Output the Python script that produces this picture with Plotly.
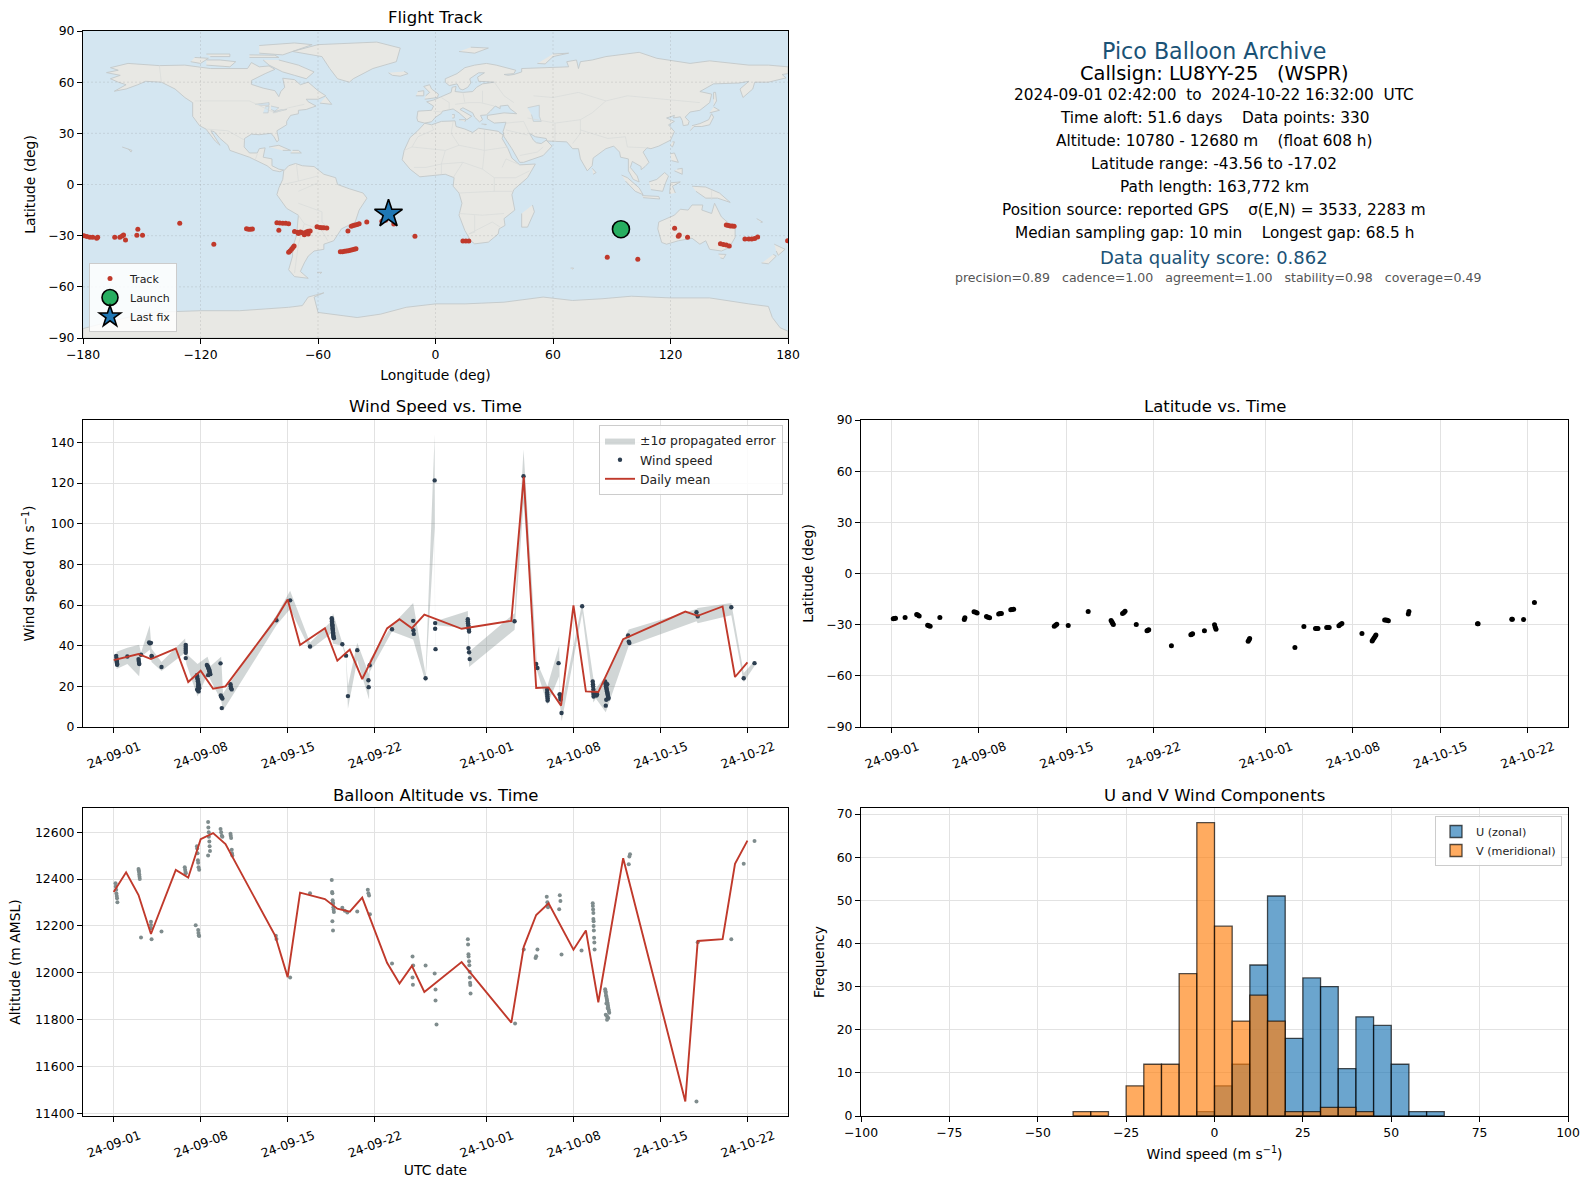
import datetime as dt
import plotly.graph_objects as go

W, H = 1589, 1189
FONT = "DejaVu Sans"
START = dt.datetime(2024, 9, 1)

# ---- time-axis ticks
TICK_DATES = ["2024-09-01", "2024-09-08", "2024-09-15", "2024-09-22",
              "2024-10-01", "2024-10-08", "2024-10-15", "2024-10-22"]
TICK_LABELS = ["24-09-01", "24-09-08", "24-09-15", "24-09-22",
               "24-10-01", "24-10-08", "24-10-15", "24-10-22"]

# ---- daily means
WIND_MEAN_DAYS = [0, 1, 2, 3, 5, 6, 7, 8, 9, 13, 14, 15, 17, 18, 19, 20, 22, 23, 24, 25, 28, 29,
                  32, 33, 34, 35, 36, 37, 38, 39, 41, 46, 47, 49, 50, 51]
WIND_MEAN = [32.9, 34.4, 35.9, 33.4, 38.6, 22.1, 27.7, 18.8, 20.0, 52.7, 62.7, 40.3, 48.6, 32.6, 38.1, 23.6,
             48.5, 53.0, 48.6, 55.3, 48.3, 49.3, 52.2, 123.1, 19.2, 19.5, 10.5, 59.8, 17.5, 17.2, 43.2,
             56.8, 54.7, 59.3, 24.6, 31.8]
ALT_MEAN_DAYS = [0, 1, 2, 3, 5, 6, 7, 8, 9, 13, 14, 15, 17, 18, 19, 20, 22, 23, 24, 25, 28,
                 32, 33, 34, 35, 37, 38, 39, 41, 46, 47, 49, 50, 51]
ALT_MEAN = [12345, 12429, 12332, 12166, 12439, 12406, 12570, 12596, 12549, 12158, 11982, 12342, 12315,
            12274, 12261, 12321, 12043, 11955, 12030, 11919, 12046, 11788, 12111, 12247, 12297, 12099,
            12181, 11875, 12489, 11452, 12136, 12144, 12465, 12564]

# ---- wind speed samples (day since 1 Sep, m/s)
WIND_DAY = [.2, .22, .24, .24, .26, .26, .28, .28, 1.1, 2.0, 2.02, 2.04, 2.06, 2.2, 2.85, 2.92, 3.0, 3.05, 3.07, 3.85,
            5.8, 5.8, 5.8, 5.8, 5.8, 5.8,
            6.7, 6.72, 6.74, 6.76, 6.78, 6.8, 6.82, 6.84, 6.8, 6.86, 6.88, 6.72, 6.78, 6.84,
            7.5, 7.55, 7.6, 7.62, 7.65, 7.68, 7.7, 7.72, 7.75, 7.78, 7.6, 7.7,
            8.6, 8.62, 8.65, 8.7, 8.75, 8.7, 9.4, 9.42, 9.45, 9.5,
            13.1, 14.2, 15.8,
            17.55, 17.56, 17.57, 17.58, 17.59, 17.6, 17.61, 17.62, 17.63, 17.64, 17.65, 17.66, 17.67, 17.68, 17.7, 17.72,
            18.4, 18.7, 18.85, 19.6, 20.5, 20.52, 20.6,
            22.4, 24.1, 24.12, 24.15, 25.1,
            25.83, 25.87, 25.87, 25.9,
            28.5, 28.5, 28.52, 28.54, 28.55, 28.58, 28.6, 28.55, 28.6, 28.65,
            32.26, 32.98, 34.0, 34.1,
            34.88, 34.88, 34.9, 34.9, 34.92, 34.92, 35.8, 35.88, 35.92, 35.96, 35.94, 36.04,
            37.7,
            38.55, 38.57, 38.58, 38.6, 38.6, 38.62, 38.62, 38.8, 38.85, 38.9,
            39.55, 39.58, 39.6, 39.62, 39.64, 39.66, 39.68, 39.7, 39.72, 39.74, 39.76, 39.78, 39.8, 39.82, 39.64, 39.72, 39.6,
            41.4, 41.45, 41.5, 46.9, 47.0, 49.7, 50.7, 51.57]
WIND_SPEED = [35, 34, 33, 32.5, 32, 31.5, 31, 30.6, 34.7, 33.4, 32.5, 31.5, 31, 35.5, 41.6, 41.2, 41.4, 35, 34.6, 29.5,
              40.4, 39.5, 38.5, 37.5, 36.5, 33.9,
              25.5, 24.8, 24, 23.2, 22.5, 21.8, 21, 20.5, 20, 19.5, 19, 18.5, 18, 17.5,
              30.5, 30, 29.5, 29, 28.5, 28, 27.5, 27, 26.5, 26, 25.5, 28,
              31.3, 15.5, 15, 14.5, 14, 9.3, 21, 20, 19, 18.5,
              52.5, 62.3, 39.6,
              53.5, 52.8, 52, 51.3, 50.5, 50, 49.3, 48.6, 48, 47.3, 46.6, 46, 45.3, 44.8, 44.2, 43.7,
              40.7, 35.1, 15.2, 37.8, 23, 19.6, 30.4,
              48.1, 52.2, 47.6, 45.8, 24,
              121.3, 51.1, 48.3, 38.3,
              53, 52, 51, 50, 49, 48, 47, 38.8, 36.8, 33.4,
              52, 123.3, 31, 29,
              18.3, 17, 16, 15, 14, 13, 31.4, 16, 16, 13.5, 14.5, 6.9,
              59.4,
              22.4, 21, 20, 18.5, 17, 16, 15, 16.7, 15.5, 16,
              22.4, 21.5, 20.8, 20, 19.4, 18.8, 18.2, 17.6, 17, 16.4, 15.8, 15.2, 14.6, 14, 13.4, 21, 10.5,
              45, 42, 41.3, 56.5, 54.4, 58.9, 24, 31.4]

# ---- +/- 1 sigma envelope
BAND_DAY = [.24, 1.1, 2.05, 2.2, 2.9, 3.05, 3.85, 5.75, 5.85, 6.75, 7.55, 7.8, 8.65, 8.8, 9.5, 13.1, 14.2, 15.8,
            17.5, 17.65, 18.4, 18.7, 18.85, 19.6, 20.55, 20.6, 22.4, 24.1, 25.1, 25.83, 25.87, 25.9, 28.5, 28.6,
            32.26, 32.98, 34.05, 34.9, 35.85, 35.9, 36.05, 37.7, 38.6, 38.8, 39.6, 41.45, 46.9, 47, 49.7, 50.7, 51.57]
BAND_HI = [37, 39, 40.5, 36.5, 50, 38.5, 32, 43.5, 36, 31, 34.5, 30, 34.5, 16.5, 23, 55, 67, 41.5,
           52, 56, 41.5, 36, 20, 41.5, 26, 33, 50, 61, 26, 144, 41, 52, 57, 37,
           56, 136.5, 32, 20, 40, 18, 11, 61, 24, 19, 25, 48, 58, 58.5, 61, 26.5, 32.5]
BAND_LO = [28.5, 31, 25, 34.5, 38, 32, 27.5, 36.5, 31, 15, 26, 23, 13, 8, 14.5, 50, 58, 38,
           46, 41, 40, 34, 9, 33, 13.5, 27, 47, 43, 22, 98, 36, 50, 48.6, 29.5,
           47.8, 110, 28, 11, 25, 12, 2.8, 56, 12, 14, 7.2, 40, 52, 51, 55, 22, 30]

# ---- altitude samples
ALT_DAY = [.15, .17, .2, .22, .25, .27, .3, 2.0, 2.02, 2.04, 2.06, 2.08, 2.1, 2.2, 3.0, 3.0, 3.0, 3.05, 3.85,
           5.72, 5.75, 5.78, 5.8, 6.6, 6.8, 6.82, 6.85, 6.88,
           6.7, 6.72, 6.75, 6.78, 6.8, 6.83, 6.88,
           7.6, 7.62, 7.65, 7.66, 7.7, 7.72, 7.75, 7.6,
           8.6, 8.65, 8.7, 8.75, 9.4, 9.42, 9.45, 9.5, 9.52, 9.55,
           13.05, 13.1, 14.2, 15.8,
           17.55, 17.58, 17.6, 17.62, 17.64, 17.66, 17.68, 17.7, 17.72, 17.6, 17.65,
           18.4, 18.6, 18.8, 19.6, 20.45, 20.5, 20.55, 20.62, 22.4, 24.05, 24.1, 24.05, 24.08, 25.1,
           25.83, 25.9, 25.9, 25.98,
           28.5, 28.52, 28.55, 28.56, 28.6, 28.62, 28.65, 28.66, 28.68, 28.7, 28.72,
           32.3, 33, 34.1, 33.95, 34.0,
           34.85, 34.9, 34.92, 34.95, 35.9, 35.95, 35.85, 36.04, 37.65,
           38.55, 38.56, 38.58, 38.6, 38.6, 38.62, 38.62, 38.64, 38.66, 38.68, 38.7,
           39.55, 39.58, 39.6, 39.62, 39.65, 39.68, 39.7, 39.72, 39.75, 39.78, 39.8, 39.82, 39.85, 39.88, 39.6, 39.7, 39.8, 39.65, 39.75, 39.7,
           41.45, 41.5, 41.55, 46.9, 47.0, 49.7, 50.7, 51.57]
ALT_VAL = [12382, 12368, 12354, 12339, 12328, 12318, 12301, 12443, 12437, 12430, 12420, 12410, 12400, 12151, 12218, 12204, 12190, 12143, 12177,
           12450, 12440, 12430, 12425, 12203, 12183, 12170, 12160, 12157,
           12540, 12530, 12510, 12480, 12470, 12450, 12440,
           12643, 12620, 12600, 12580, 12560, 12540, 12520, 12500,
           12613, 12600, 12585, 12580, 12593, 12585, 12575, 12525, 12510, 12500,
           12158, 12145, 11980, 12340,
           12396, 12345, 12340, 12310, 12300, 12295, 12280, 12270, 12260, 12220, 12181,
           12278, 12265, 12257, 12262, 12354, 12340, 12330, 12250, 12040, 12070, 12032, 11980, 11950, 12032,
           11997, 11929, 11882, 11780,
           12143, 12121, 12080, 12070, 12050, 12033, 12005, 11980, 11958, 11948, 11912,
           11784, 12100, 12100, 12064, 12071,
           12325, 12301, 12290, 12280, 12331, 12307, 12271, 12079, 12096,
           12297, 12285, 12270, 12255, 12230, 12220, 12200, 12181, 12150, 12130, 12100,
           11930, 11922, 11915, 11905, 11898, 11890, 11882, 11875, 11868, 11860, 11852, 11845, 11838, 11830, 11822, 11815, 11808, 11870, 11850, 11800,
           12463, 12496, 12506, 11452, 12131, 12143, 12465, 12562]

# ---- latitude samples
LAT_DAY = [.12, .2, .3, 1.07, 2.0, 2.09, 2.2, 2.88, 2.98, 3.08, 3.86, 5.82, 5.87, 6.6, 6.73, 6.85, 7.6, 7.72, 7.85,
           8.58, 8.69, 8.8, 9.55, 9.65, 9.78, 13.04, 13.14, 13.24, 14.16, 15.76, 17.6, 17.67, 17.72, 17.78, 18.52, 18.63, 18.72,
           19.62, 20.48, 20.56, 20.62, 22.44, 24.0, 24.08, 24.14, 25.09, 25.9, 25.96, 26.02,
           28.6, 28.67, 28.72, 32.35, 33.07, 34.0, 34.1, 34.2, 34.9, 35.0, 35.1, 35.88, 36.0, 36.12, 37.73,
           38.55, 38.62, 38.7, 38.78, 38.85, 39.55, 39.65, 39.75, 39.85, 41.45, 41.5, 47.0, 47.05, 49.75, 49.8, 50.7, 51.57]
LAT_VAL = [-26.5, -26.4, -26.3, -25.8, -24, -24.3, -24.9, -30.4, -30.7, -31, -25.8, -26.9, -26, -22.4, -22.7, -23.2, -25.2, -25.6, -26,
           -23.7, -23.5, -23.4, -21.2, -21.1, -21, -30.9, -30.3, -29.8, -30.5, -22.3, -27.6, -28.4, -29.2, -29.9, -23.4, -22.9, -22.2,
           -29.9, -33.6, -33.3, -33, -42.3, -35.9, -35.6, -35.3, -33.5, -30, -31.5, -32.7,
           -39.7, -38.9, -38.1, -43.4, -31.1, -32.3, -32.3, -32.3, -31.7, -31.7, -31.7, -30.6, -29.9, -29.3, -35.2,
           -39.6, -38.7, -37.8, -36.9, -36.1, -27.3, -27.2, -27.4, -27.7, -23.7, -22.3, -29.4, -29.4, -26.8, -26.8, -27, -17]

# ---- map track
TRACK_LON = [-179.5, -178, -176.5, -175, -173, -172.5, -163.8, -161.2, -160, -159.3, -158.3, -152, -152.5, -149.6, -130.6, -113.2,
             -96.5, -95.5, -94.5, -93.5, -81, -79.5, -78, -76.5, -75, -80, -72, -70.5, -69, -68, -67, -66, -65, -64, -70, -67, -65,
             -75, -74.3, -73.5, -72.8, -72.2, -60.5, -59, -58, -57, -55.5, -44.7, -43, -42, -41, -40, -39, -35.1,
             -48.6, -47.5, -46.5, -45.5, -44.5, -43.5, -42.5, -41.5, -40.6, -27.4, -25.5, -21.3, -10.5, 14, 15.5, 17,
             87.7, 103.3, 122.1, 124, 124.5, 128.7, 148.5, 149.5, 150.5, 151.5, 152.5, 145.5, 147, 148.5, 150,
             158, 160, 161.5, 163, 164.5, 179.8]
TRACK_LAT = [-30, -30.5, -31, -31, -31.5, -31, -30.9, -31, -30.2, -29.6, -32.5, -26.2, -29.7, -29.7, -22.7, -35,
             -26, -26.3, -26.3, -26.1, -22.5, -22.6, -22.7, -22.7, -23, -26.8, -27.5, -28, -27.9, -28.3, -28.6, -27.8, -27.4, -27.2, -28.8, -29.5, -29,
             -39.7, -39, -38, -37, -36, -24.8, -25.2, -25.4, -25.4, -25.5, -27.2, -24.5, -24, -23.8, -23.5, -23, -22,
             -39.5, -39.4, -39.2, -39, -38.8, -38.6, -38.3, -38, -37.7, -21.5, -21, -23.1, -30.3, -33.2, -33.2, -33.1,
             -42.6, -43.8, -25.6, -30.3, -29.6, -30.9, -23.8, -24, -24.3, -24.4, -24.5, -34.8, -35.2, -35.4, -36,
             -32, -32, -32, -31.7, -30.8, -33]
LAUNCH = (94.7, -26.2)
LAST_FIX = (-24.0, -17.2)

# ---- histogram counts (bin lower edge, width 5)
U_EDGES = [-5, 0, 5, 10, 15, 20, 25, 30, 35, 40, 45, 50, 55, 60]
U_COUNTS = [1, 7, 12, 35, 51, 18, 32, 30, 11, 23, 21, 12, 1, 1]
V_EDGES = [-40, -35, -25, -20, -15, -10, -5, 0, 5, 10, 15, 20, 25, 30, 35, 40]
V_COUNTS = [1, 1, 7, 12, 12, 33, 68, 44, 22, 28, 22, 1, 1, 2, 2, 1]

# ---- base map outlines (lon, lat)
LAND_POLYGONS = [
    [(-168, 65.6), (-162, 67), (-166, 68.5), (-157, 71), (-141, 69.7), (-128, 70), (-115, 68), (-108, 68), (-96, 68), (-94, 71.5), (-90, 69), (-85, 69.5), (-82, 67.5), (-87, 65), (-94, 61), (-94, 58.7), (-88, 56.5), (-82, 55), (-80, 51.5), (-79, 54.5), (-77, 57), (-78, 62.3), (-72, 61.5), (-69, 58.5), (-65, 60), (-60, 55), (-56, 52), (-60, 50), (-66, 50), (-65, 48.5), (-61, 46), (-66, 44), (-70, 43.5), (-70, 41.5), (-74, 40.5), (-76, 37), (-76, 35), (-81, 31.5), (-80, 26), (-81, 25), (-82.5, 28), (-84, 30), (-90, 29.2), (-94, 29.5), (-97.5, 27), (-97.7, 22), (-95, 18.5), (-91, 18.5), (-90, 21), (-87, 21.5), (-88, 16), (-83.5, 15), (-83.5, 11), (-80, 9), (-77.5, 8.5), (-79.5, 7.5), (-83, 8.3), (-86, 11), (-91, 14), (-95, 16), (-105, 20), (-106, 23), (-110, 27), (-113, 31), (-114.7, 31.5), (-112, 27), (-110, 23), (-112.5, 25.5), (-116, 31), (-117.2, 32.5), (-120.5, 34.5), (-124, 40), (-124, 48), (-128, 51), (-133, 56), (-140, 60), (-148, 60.5), (-152, 58.5), (-158, 56), (-164, 54.7), (-158, 58.5), (-162, 60), (-166, 62), (-161, 64), (-168, 65.6)],
    [(-77.5, 8), (-75, 11), (-71.5, 12.3), (-68, 11), (-62, 10.5), (-57, 6), (-51, 4), (-50, 0), (-44, -2.5), (-37, -5), (-35, -8), (-39, -15), (-41, -22), (-48, -26), (-52, -33), (-57, -35), (-57, -38), (-62, -39), (-65, -42), (-67, -46), (-69, -51), (-65, -55), (-72, -54), (-75, -50), (-73, -42), (-73, -37), (-71, -30), (-70, -18), (-76, -14), (-81, -6), (-80, -2), (-78, 3), (-77.5, 8)],
    [(-5.5, 35.9), (-2, 35), (3, 37), (10, 37.3), (10.5, 34), (15, 32.5), (19, 30.5), (22, 33), (32, 31.2), (34.5, 29), (34, 27), (37, 21), (39, 15.5), (43, 11.5), (51, 12), (47, 4), (40, -3), (39, -6), (40.5, -15), (35, -20), (35.5, -24), (32.5, -26), (32, -29), (27, -33.8), (20, -34.8), (18, -33), (15, -27), (12, -18), (13.5, -11), (12, -5), (9, -1), (9.5, 4), (5, 6), (-4, 5), (-8, 4.5), (-13, 9), (-17, 14.5), (-16, 20), (-13, 27.5), (-9.5, 31), (-5.5, 35.9)],
    [(-9, 37), (-9.5, 39), (-9, 43), (-2, 43.5), (-1, 46), (-4.5, 48.5), (-1, 49.5), (2, 51), (4, 52), (8, 54), (8.5, 57), (10.5, 57.5), (10, 54.5), (14, 54), (19, 54.5), (21, 57), (24, 59), (30, 60), (22, 60.5), (21.5, 63), (25, 65.5), (22, 65.5), (17.5, 62), (18, 59.5), (16.5, 57), (14, 55.5), (12.5, 56), (11, 59), (7, 58), (5, 60), (5, 62), (11, 65), (15, 68.5), (20, 70), (26, 71), (31, 70), (41, 67), (40, 65), (35, 64.5), (37, 64), (40, 64.5), (44, 66), (44, 68), (54, 68.5), (60, 69), (68, 69), (67, 72), (72, 73), (73, 68), (74, 72), (80, 73), (87, 75), (104, 77.5), (113, 74), (130, 71), (140, 72.5), (160, 70), (170, 70), (180, 69), (180, 65), (177, 64.5), (179, 62.5), (170, 60), (163, 60), (162, 56), (157, 51), (155.5, 56), (160, 60.5), (155, 59.5), (142, 59), (135, 54.5), (141, 53), (140, 48), (135, 43.5), (130, 42.5), (127.5, 39.5), (129.5, 37), (129, 35), (126.5, 34.5), (126, 37.5), (125, 39.7), (121.5, 39), (122, 40.5), (118, 39), (122, 37), (119, 35), (122, 31), (120, 26), (114, 22.5), (110, 21), (108, 21.5), (106, 19), (109, 13), (107, 10.5), (105, 8.7), (105, 10.5), (100.5, 13.5), (99.5, 10), (103, 5), (104, 1.5), (101, 3), (98.5, 8), (98.5, 15), (94.5, 16), (94, 19), (91, 22.5), (87, 21), (80.5, 15.5), (80, 11), (77.5, 8), (74, 15), (73, 21), (70, 21), (67, 25), (57, 25.5), (56.5, 27), (51, 28), (48, 30), (50, 26), (51.5, 24.5), (54, 24), (56.5, 26), (59.5, 22.5), (55, 17), (45, 13), (43, 13), (39, 21), (35, 28), (34.5, 31), (36, 36.5), (30, 36), (26.5, 38.5), (26.5, 40.5), (29, 41), (35, 42), (41.5, 41.5), (38, 44.5), (37, 46.5), (33, 46), (33, 44.5), (30.5, 46), (28, 43), (26, 40.8), (23, 40.5), (24, 38), (22.5, 36.7), (20, 39.5), (19, 42), (14, 45), (12.5, 44), (18.5, 40), (16, 38), (12, 42), (9, 44.3), (3.5, 43), (3, 41.7), (0, 39.5), (-2, 36.8), (-5.5, 36), (-9, 37)],
    [(114, -22), (113.5, -26), (115.5, -34), (118, -35), (124, -33), (131, -31.5), (135, -35), (138, -33), (140, -38), (146, -39), (150, -37), (153, -31), (153, -26), (146, -19), (142.5, -11), (141, -17), (136, -15), (136.5, -12), (131, -12), (129, -15), (125, -14.5), (122, -18), (114, -22)],
    [(-180, -84.5), (-180, -90), (180, -90), (180, -86), (176, -84), (172, -78), (170, -71.5), (160, -70), (140, -66.5), (120, -66.5), (100, -65.5), (85, -67), (70, -68), (55, -66), (35, -69), (15, -70), (0, -70), (-15, -72), (-28, -76), (-40, -78), (-60, -75), (-62, -66), (-57, -63.5), (-65, -66), (-68, -71), (-75, -72), (-100, -74), (-120, -74), (-146, -75), (-165, -80), (-180, -84.5)],
    [(-73, 78), (-60, 82), (-30, 83.5), (-18, 80), (-20, 72), (-32, 68), (-42, 62), (-44, 60), (-50, 62), (-54, 68), (-58, 75), (-73, 78)],
    [(-80, 73), (-70, 70), (-62, 66), (-66, 62), (-72, 64), (-78, 66), (-85, 70), (-88, 73)],
    [(-117, 70), (-105, 69), (-102, 72), (-110, 73), (-117, 73)],
    [(-125, 72), (-120, 71), (-116, 74), (-123, 74.5)],
    [(-90, 77), (-78, 76), (-63, 82), (-72, 83), (-90, 81.5)],
    [(-115, 75), (-105, 75), (-105, 76.5), (-117, 76.5)],
    [(-95, 74.5), (-80, 74.5), (-82, 75.8), (-95, 76)],
    [(-59, 47.7), (-53, 47), (-56, 51.5)],
    [(-24, 65.5), (-22, 64), (-18, 63.5), (-14, 65), (-16, 66.3)],
    [(-5.5, 50), (1, 51), (1.5, 53), (-2, 56), (-3, 58.5), (-6, 57.5), (-3, 54), (-5, 52)],
    [(-10, 52), (-6, 52), (-6, 55), (-9, 54.5)],
    [(12, 78), (20, 77), (27, 80), (18, 80.5)],
    [(52, 71), (56, 70.7), (60, 75), (68, 77), (60, 76.5)],
    [(130, 31.5), (132, 34), (136, 34), (140, 35), (142, 39.5), (141, 41.5), (139.5, 38), (135, 35.7), (131, 34.5)],
    [(140, 42), (145, 43.5), (142, 45.5)],
    [(142, 46), (143.5, 49), (143, 54), (142, 54), (142, 50)],
    [(120, 23), (121, 22), (122, 25), (121, 25)],
    [(120, 18), (122, 18.5), (124, 13), (120.5, 14)],
    [(122, 8), (126, 6), (126, 9.5), (123.5, 9)],
    [(109, 1.5), (113, 3), (117, 7), (119, 5), (117.5, 1), (116, -4), (110, -3)],
    [(95, 5.5), (98, 4), (104, -2), (106, -6), (102, -4), (97, 2)],
    [(105.5, -6.5), (114, -7), (114.5, -8.5), (106, -7.7)],
    [(119.5, -5.5), (120, 1), (125, 1.5), (121, -1), (122.5, -5)],
    [(131, -1), (138, -1.5), (145, -5), (150.5, -10.5), (144, -8), (138, -8), (133, -4)],
    [(173, -35), (178.5, -38), (175, -41.5), (174, -39)],
    [(172.5, -41), (174, -42), (170, -46.5), (166.5, -46)],
    [(144.5, -40.8), (148.3, -41), (147, -43.5), (145.5, -43)],
    [(49.5, -12), (50.5, -16), (47, -25), (44, -25), (44, -17)],
    [(80, 9.5), (82, 7), (80.5, 6)],
    [(-85, 22), (-80, 23), (-74, 20), (-78, 20)],
    [(-74, 18.5), (-68.5, 18.5), (-70, 20), (-73, 20)],
    [(164, -20), (167, -22), (166, -22.3)],
    [(-60.5, -51.5), (-58, -51.5), (-59, -52.3)],
    [(69, -49), (70.5, -49), (70, -49.8)],
    [(12, 38), (15.5, 38), (15, 36.8)],
    [(23.5, 35.5), (26, 35.2), (25, 35)],
    [(8.5, 41), (9.7, 41), (9.5, 39), (8.5, 39)],
    [(-160, 22), (-155, 20), (-155.5, 19), (-157, 21)],
]
LAKE_POLYGONS = [
    [(-92, 47), (-85, 48), (-85, 46.5), (-90, 46.5)],
    [(-88, 42), (-85.5, 42), (-85, 46), (-87, 45.5)],
    [(-84, 46), (-80, 45), (-82, 43), (-84, 44)],
    [(-83, 42), (-79, 43), (-76, 44), (-79, 43.8), (-83, 42.5)],
    [(47, 45), (53, 46.5), (53, 40), (54, 37), (50, 37), (49, 41)],
]
BORDER_LINES = [
    [(-140, 60), (-141, 69.7)], [(-123, 49), (-95, 49), (-82, 42), (-75, 45), (-67, 47)],
    [(-117, 32.5), (-106, 31.5), (-97.5, 26)], [(-92, 14.5), (-91, 18)],
    [(-71, 12), (-70, 2), (-78, 0)], [(-70, 2), (-60, 5)], [(-70, -4), (-60, 1)], [(-70, -11), (-58, -16), (-58, -22)],
    [(-70, -18), (-67, -23), (-70, -35), (-72, -52)], [(-67, -23), (-58, -27), (-55, -33)], [(-58, -22), (-54, -26)],
    [(-1, 43), (3, 42.5)], [(3, 51), (7, 48), (7, 44)], [(14, 54), (15, 48)], [(10, 47), (17, 48), (23, 48), (30, 46)],
    [(24, 55), (24, 48)], [(30, 60), (35, 52), (40, 48)], [(50, 52), (60, 51), (73, 54), (87, 49), (98, 52), (116, 50), (135, 48)],
    [(87, 49), (80, 42), (74, 38), (61, 36), (47, 39)], [(61, 36), (61, 25)], [(74, 38), (74, 30), (70, 24)], [(74, 32), (88, 27), (97, 28), (98, 22), (108, 21.5)],
    [(36, 36), (45, 37), (48, 30)], [(36, 32), (47, 29)], [(43, 17), (52, 19), (55, 22)],
    [(-9, 28), (-1, 32), (-2, 35)], [(-9, 28), (-12, 22), (-16, 20)], [(-12, 22), (5, 20), (12, 23), (25, 20), (37, 22)], [(25, 32), (25, 20), (24, 9), (30, 4), (41, 4), (48, 8)],
    [(9, 37), (8, 30), (12, 23)], [(5, 20), (3, 12), (3, 6)], [(-11, 10), (-5, 10), (3, 12), (14, 13), (24, 9)], [(34, 10), (36, 15), (42, 12)],
    [(9, 4), (14, 13)], [(12, -5), (30, -4), (30, 4)], [(30, -4), (40, -4)], [(12, -17), (24, -18), (35, -17)], [(20, -18), (20, -28), (17, -29), (29, -22), (33, -25)],
    [(141, -3), (141, -9)],
]
LON_TICKS = [-180, -120, -60, 0, 60, 120, 180]
LAT_TICKS = [-90, -60, -30, 0, 30, 60, 90]


def to_time(days):
    return [(START + dt.timedelta(days=d)).strftime("%Y-%m-%d %H:%M:%S") for d in days]


def unroll(polys):
    xs, ys = [], []
    for p in polys:
        xs += [q[0] for q in p] + [None]
        ys += [q[1] for q in p] + [None]
    return xs, ys


def dom_x(a, b):
    return [a / W, b / W]


def dom_y(top, bottom):
    return [1 - bottom / H, 1 - top / H]


GRID = "#e2e2e2"
AXCOM = dict(showline=True, mirror=True, linecolor="black", linewidth=1.2, ticks="outside", ticklen=5, tickwidth=1.1,
             tickcolor="black", gridcolor=GRID, gridwidth=1, zeroline=False, automargin=False,
             tickfont=dict(size=12.4, color="black"), title_font=dict(size=13.9, color="black"))
TIME_RANGE = ["2024-08-29 12:46:00", "2024-10-25 06:20:00"]
TIMEAX = dict(AXCOM, type="date", range=TIME_RANGE, tickvals=TICK_DATES, ticktext=TICK_LABELS, tickangle=-20,
              ticklabelshift=26, ticklabelstandoff=2)

fig = go.Figure()

# --- map
lx, ly = unroll(LAND_POLYGONS)
fig.add_trace(go.Scatter(x=lx, y=ly, mode="lines", fill="toself", fillcolor="#e8e8e4",
                         line=dict(color="#c3c8ca", width=0.9), showlegend=False, hoverinfo="skip", xaxis="x", yaxis="y"))
wx, wy = unroll(LAKE_POLYGONS)
fig.add_trace(go.Scatter(x=wx, y=wy, mode="lines", fill="toself", fillcolor="#d4e6f1",
                         line=dict(color="#c3c8ca", width=0.7), showlegend=False, hoverinfo="skip", xaxis="x", yaxis="y"))
bx, by = unroll(BORDER_LINES)
fig.add_trace(go.Scatter(x=bx, y=by, mode="lines", line=dict(color="#d9dbda", width=0.7),
                         showlegend=False, hoverinfo="skip", xaxis="x", yaxis="y"))
gx, gy = [], []
for v in LON_TICKS[1:-1]:
    gx += [v, v, None]
    gy += [-90, 90, None]
for v in LAT_TICKS[1:-1]:
    gx += [-180, 180, None]
    gy += [v, v, None]
fig.add_trace(go.Scatter(x=gx, y=gy, mode="lines", line=dict(color="rgba(130,130,130,0.24)", width=0.8, dash="2px,2px"),
                         showlegend=False, hoverinfo="skip", xaxis="x", yaxis="y"))
fig.add_trace(go.Scatter(x=TRACK_LON, y=TRACK_LAT, mode="markers", name="Track", marker=dict(color="#c0392b", size=5),
                         xaxis="x", yaxis="y", legend="legend"))
fig.add_trace(go.Scatter(x=[LAUNCH[0]], y=[LAUNCH[1]], mode="markers", name="Launch",
                         marker=dict(color="#27ae60", size=17, symbol="circle", line=dict(color="black", width=1.6)),
                         xaxis="x", yaxis="y", legend="legend"))
fig.add_trace(go.Scatter(x=[LAST_FIX[0]], y=[LAST_FIX[1]], mode="markers", name="Last fix",
                         marker=dict(color="#1f77b4", size=21, symbol="star", line=dict(color="black", width=1.6)),
                         xaxis="x", yaxis="y", legend="legend"))

# --- wind
bd = to_time(BAND_DAY)
fig.add_trace(go.Scatter(x=bd + bd[::-1], y=BAND_HI + BAND_LO[::-1], mode="lines", fill="toself",
                         fillcolor="rgba(127,140,141,0.36)", line=dict(width=0), name="±1σ propagated error",
                         xaxis="x2", yaxis="y2", legend="legend2"))
fig.add_trace(go.Scatter(x=to_time(WIND_DAY), y=WIND_SPEED, mode="markers", name="Wind speed",
                         marker=dict(color="#2c3e50", size=4.4), xaxis="x2", yaxis="y2", legend="legend2"))
fig.add_trace(go.Scatter(x=to_time(WIND_MEAN_DAYS), y=WIND_MEAN, mode="lines", name="Daily mean",
                         line=dict(color="#c0392b", width=1.9), xaxis="x2", yaxis="y2", legend="legend2"))

# --- latitude
fig.add_trace(go.Scatter(x=to_time(LAT_DAY), y=LAT_VAL, mode="markers", marker=dict(color="black", size=5),
                         showlegend=False, xaxis="x3", yaxis="y3"))

# --- altitude
fig.add_trace(go.Scatter(x=to_time(ALT_DAY), y=ALT_VAL, mode="markers", marker=dict(color="#7f8c8d", size=4),
                         showlegend=False, xaxis="x4", yaxis="y4"))
fig.add_trace(go.Scatter(x=to_time(ALT_MEAN_DAYS), y=ALT_MEAN, mode="lines", line=dict(color="#c0392b", width=1.9),
                         showlegend=False, xaxis="x4", yaxis="y4"))

# --- histogram
EDGE = dict(color="rgba(0,0,0,0.68)", width=1.3)
fig.add_trace(go.Bar(x=[e + 2.5 for e in U_EDGES], y=U_COUNTS, width=5, name="U (zonal)",
                     marker=dict(color="rgba(31,119,180,0.66)", line=EDGE), xaxis="x5", yaxis="y5", legend="legend3"))
fig.add_trace(go.Bar(x=[e + 2.5 for e in V_EDGES], y=V_COUNTS, width=5, name="V (meridional)",
                     marker=dict(color="rgba(255,127,14,0.66)", line=EDGE), xaxis="x5", yaxis="y5", legend="legend3"))

# --- text
ann = []


def text(x, y, s, size, color="black", anchor="center"):
    ann.append(dict(x=x / W, y=1 - y / H, xref="paper", yref="paper", text=s, showarrow=False,
                    font=dict(size=size, color=color), xanchor=anchor, yanchor="middle"))


for x, y, s in [(435.5, 18, "Flight Track"), (435.5, 406, "Wind Speed vs. Time"), (1214.5, 406, "Latitude vs. Time"),
                (435.5, 795, "Balloon Altitude vs. Time"), (1214.5, 795, "U and V Wind Components")]:
    text(x, y, s, 16.5)

CX = 1214
INFO_LINES = [
    (51, "Pico Balloon Archive", 22.2, "#1a5276", 0),
    (73, "Callsign: LU8YY-25   (WSPR)", 19.4, "black", 0),
    (95, "2024-09-01 02:42:00  to  2024-10-22 16:32:00  UTC", 15.3, "black", 0),
    (118, "Time aloft: 51.6 days    Data points: 330", 15.3, "black", 0),
    (141, "Altitude: 10780 - 12680 m    (float 608 h)", 15.3, "black", 0),
    (164, "Latitude range: -43.56 to -17.02", 15.3, "black", 0),
    (187, "Path length: 163,772 km", 15.3, "black", 0),
    (210, "Position source: reported GPS    σ(E,N) = 3533, 2283 m", 15.3, "black", 0),
    (233, "Median sampling gap: 10 min    Longest gap: 68.5 h", 15.3, "black", 0),
    (257, "Data quality score: 0.862", 18, "#1a5276", 0),
    (278, "precision=0.89   cadence=1.00   agreement=1.00   stability=0.98   coverage=0.49", 12.55, "#555555", 4),
]
for y, s, size, color, dx in INFO_LINES:
    text(CX + dx, y, s, size, color)

LEG = dict(bgcolor="rgba(255,255,255,0.85)", bordercolor="#cccccc", borderwidth=1, font=dict(size=11, color="#222222"),
           tracegroupgap=0, itemwidth=30)

UNIT = "Wind speed (m s<sup>−1</sup>)"
fig.update_layout(
    width=W, height=H, autosize=False, margin=dict(l=0, r=0, t=0, b=0, autoexpand=False), paper_bgcolor="white", plot_bgcolor="white",
    font=dict(family=FONT, color="black"), barmode="overlay", annotations=ann, hovermode=False,
    shapes=[dict(type="rect", xref="x", yref="y", x0=-180, x1=180, y0=-90, y1=90, layer="below",
                 fillcolor="#d4e6f1", line=dict(width=0))],
    xaxis=dict(AXCOM, domain=dom_x(83, 788), range=[-180, 180], tickvals=LON_TICKS, showgrid=False,
               title=dict(text="Longitude (deg)", standoff=9), anchor="y"),
    yaxis=dict(AXCOM, domain=dom_y(31, 338), range=[-90, 90], tickvals=LAT_TICKS, showgrid=False,
               title=dict(text="Latitude (deg)", standoff=9), anchor="x"),
    xaxis2=dict(TIMEAX, domain=dom_x(83, 788), anchor="y2"),
    yaxis2=dict(AXCOM, domain=dom_y(420, 727), range=[0, 151], tickvals=list(range(0, 141, 20)),
                title=dict(text=UNIT, standoff=12), anchor="x2"),
    xaxis3=dict(TIMEAX, domain=dom_x(861, 1568), anchor="y3"),
    yaxis3=dict(AXCOM, domain=dom_y(420, 727), range=[-90, 90], tickvals=LAT_TICKS,
                title=dict(text="Latitude (deg)", standoff=9), anchor="x3"),
    xaxis4=dict(TIMEAX, domain=dom_x(83, 788), anchor="y4", title=dict(text="UTC date", standoff=5)),
    yaxis4=dict(AXCOM, domain=dom_y(808, 1116), range=[11390, 12703], tickvals=list(range(11400, 12601, 200)), tickformat="d",
                title=dict(text="Altitude (m AMSL)", standoff=11), anchor="x4"),
    xaxis5=dict(AXCOM, domain=dom_x(861, 1568), range=[-100, 100], tickvals=list(range(-100, 101, 25)), anchor="y5",
                title=dict(text=UNIT, standoff=10)),
    yaxis5=dict(AXCOM, domain=dom_y(808, 1116), range=[0, 71.4], tickvals=list(range(0, 71, 10)),
                title=dict(text="Frequency", standoff=8), anchor="x5"),
    legend=dict(LEG, x=89 / W, y=1 - 332 / H, xanchor="left", yanchor="bottom"),
    legend2=dict(LEG, x=783 / W, y=1 - 425 / H, xanchor="right", yanchor="top", font=dict(size=12.4, color="#222222")),
    legend3=dict(LEG, x=1562 / W, y=1 - 816 / H, xanchor="right", yanchor="top", font=dict(size=11.2, color="#222222")),
)
fig.write_html("out.html", config=dict(displayModeBar=False),
               post_script="document.body.style.margin='0';document.body.style.overflow='hidden';")
